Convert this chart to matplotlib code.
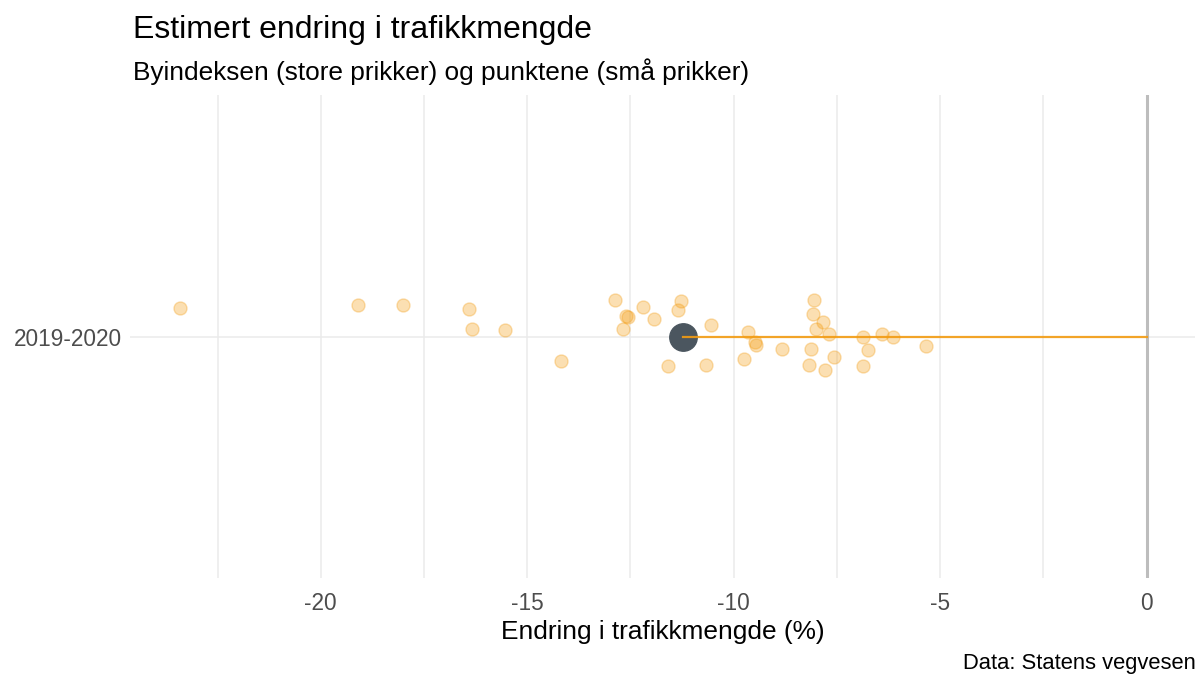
import matplotlib.pyplot as plt
from matplotlib.ticker import MultipleLocator

plt.rcParams['font.family'] = ['Liberation Sans', 'DejaVu Sans']
plt.rcParams['axes.unicode_minus'] = False

# data
period = "2019-2020"
city_index = -11.23

point_change = [
    -23.41, -19.09, -18.00, -16.42, -16.34, -15.55, -14.19, -12.88,
    -12.62, -12.57, -12.67, -12.20, -11.93, -11.27, -11.36, -11.58,
    -10.66, -10.54, -9.66, -9.49, -9.45, -9.75, -8.83, -8.05,
    -8.09, -7.84, -8.01, -7.70, -8.13, -7.57, -8.18, -7.79,
    -6.88, -6.75, -6.88, -6.40, -6.14, -5.35,
]
# vertical jitter of the small points (category units)
point_jitter = [
    0.070, 0.078, 0.078, 0.069, 0.020, 0.016, -0.060, 0.092,
    0.052, 0.048, 0.020, 0.074, 0.044, 0.088, 0.065, -0.074,
    -0.070, 0.030, 0.012, -0.014, -0.022, -0.055, -0.030, 0.092,
    0.056, 0.036, 0.020, 0.007, -0.030, -0.051, -0.070, -0.082,
    -0.001, -0.034, -0.074, 0.007, -0.001, -0.024,
]

orange = "#F39C12"
grid = "#EBEBEB"

fig = plt.figure(figsize=(12.04, 6.8), dpi=100)
ax = fig.add_axes([0.108, 0.150, 0.8845, 0.710])

ax.axvline(0, color="#BDBDBD", lw=2.2, zorder=1)
ax.scatter(point_change, point_jitter, s=88, color=orange, alpha=0.32,
           linewidths=1.0, edgecolors=orange, zorder=2)
ax.scatter([city_index], [0], s=390, color="#4B565F", zorder=3)
ax.plot([city_index, 0], [0, 0], color=orange, lw=1.6, alpha=0.9, zorder=4)

ax.set_xlim(-24.62, 1.17)
ax.set_ylim(-0.6, 0.6)
ax.xaxis.set_major_locator(MultipleLocator(5))
ax.xaxis.set_minor_locator(MultipleLocator(2.5))
ax.set_yticks([0])
ax.set_yticklabels([period])
ax.grid(True, which="both", axis="x", color=grid, lw=1.1, zorder=0)
ax.grid(True, axis="y", color=grid, lw=1.1, zorder=0)
ax.set_axisbelow(True)
for s in ax.spines.values():
    s.set_visible(False)
ax.tick_params(which="both", length=0, labelsize=16.3, colors="#4D4D4D")
ax.tick_params(axis="x", pad=10)
ax.tick_params(axis="y", pad=6)

ax.set_xlabel("Endring i trafikkmengde (%)", fontsize=18.9, labelpad=4)

fig.text(133 / 1204, 1 - 30 / 680, "Estimert endring i trafikkmengde",
         fontsize=23, va="center", ha="left")
fig.text(133 / 1204, 1 - 72 / 680, "Byindeksen (store prikker) og punktene (små prikker)",
         fontsize=18.9, va="center", ha="left")
fig.text(1196 / 1204, 1 - 664 / 680, "Data: Statens vegvesen",
         fontsize=15.8, va="center", ha="right")

fig.savefig("out.png", dpi=100)
